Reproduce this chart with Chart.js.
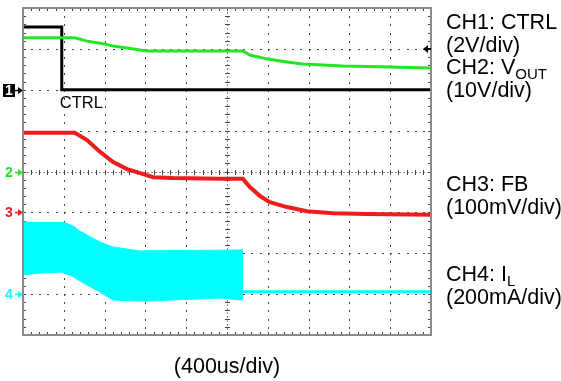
<!DOCTYPE html>
<html>
<head>
<meta charset="utf-8">
<script src="https://cdn.jsdelivr.net/npm/chart.js@4.4.1/dist/chart.umd.min.js"></script>
<style>
  html, body { margin: 0; padding: 0; background: #fff; }
  #wrap { width: 561px; height: 381px; }
</style>
</head>
<body>
<div id="wrap"><canvas id="scope"></canvas></div>
<script>
// horizontal: 400us/div over 10 divisions
const usPerDiv = 400;
const timeLabel = '(400us/div)';

// CH1 CTRL (V)
const ctrlTime = [0, 380, 380, 4000];
const ctrlVolts = [3.07, 3.07, 0, 0];

// CH2 VOUT (V)
const voutTime = [0, 508, 628, 756, 884, 1020, 1148, 1224, 2156, 2224, 2400, 2588, 2744, 3136, 3500, 4000];
const voutVolts = [32.7, 32.7, 31.9, 31.4, 30.7, 30.2, 29.7, 29.5, 29.5, 28.5, 27.5, 26.8, 26.3, 25.8, 25.6, 25.3];

// CH3 FB (mV)
const fbTime = [0, 508, 628, 756, 884, 1020, 1148, 1276, 1472, 1932, 2156, 2224, 2324, 2420, 2588, 2784, 3040, 3372, 4000];
const fbMv = [195, 195, 177, 148, 123, 106, 96, 86, 84, 82, 82, 62, 40, 25, 13, 3, -2, -4, -6];

// CH4 IL (mA): ripple envelope while switching, then the settled trace
const ilTime = [0, 167, 382, 412, 461, 510, 539, 627, 755, 882, 1147, 1216, 1931, 2157];
const ilMaxMa = [353, 350, 350, 349, 340, 328, 314, 289, 255, 231, 211, 212, 215, 216];
const ilMinMa = [94, 103, 108, 100, 94, 80, 70, 45, 10, -29, -34, -34, -19, -29];
const ilTailTime = [2157, 4000];
const ilTailMa = [12, 12];

// channel settings: units per division and ground marker (divisions from bottom)
const chPerDiv = [2, 10, 100, 200];
const chZeroDiv = [6, 4, 3, 1];
const chColors = ['#000000', '#22e622', '#ee1c1c', '#00ffff'];

// legend text: name, subscript, scale
const chNames = ['CH1: CTRL', 'CH2: V', 'CH3: FB', 'CH4: I'];
const chSubs = ['', 'OUT', '', 'L'];
const chScales = ['(2V/div)', '(10V/div)', '(100mV/div)', '(200mA/div)'];

function trace(ch, times, vals) {
  return times.map((t, i) => ({ x: t, y: vals[i] / chPerDiv[ch] + chZeroDiv[ch] }));
}

const FONT = '"Liberation Sans", Arial, sans-serif';

// scope graticule: dotted division lines, ticked centre lines, ticked border
const graticule = {
  id: 'graticule',
  beforeDatasetsDraw(chart) {
    const { ctx, chartArea: a, scales: { x, y } } = chart;
    ctx.save();
    // dotted lines at every division
    ctx.fillStyle = '#444';
    for (let i = 1; i < 10; i++) {
      if (i === 5) continue;
      const px = Math.round(x.getPixelForValue(i * usPerDiv));
      for (let j = 1; j < 40; j++) {
        ctx.fillRect(px, Math.round(y.getPixelForValue(j / 5)), 1, 2);
      }
    }
    for (let i = 1; i < 8; i++) {
      if (i === 4) continue;
      const py = Math.round(y.getPixelForValue(i));
      for (let j = 1; j < 50; j++) {
        ctx.fillRect(Math.round(x.getPixelForValue(j * usPerDiv / 5)), py, 2, 1);
      }
    }
    // centre lines with minor ticks
    const cx = Math.round(x.getPixelForValue(5 * usPerDiv));
    const cy = Math.round(y.getPixelForValue(4));
    ctx.strokeStyle = '#888';
    ctx.lineWidth = 1;
    ctx.setLineDash([2, 2]);
    ctx.beginPath();
    ctx.moveTo(cx + 0.5, a.top); ctx.lineTo(cx + 0.5, a.bottom);
    ctx.moveTo(a.left, cy + 0.5); ctx.lineTo(a.right, cy + 0.5);
    ctx.stroke();
    ctx.setLineDash([]);
    ctx.strokeStyle = '#444';
    ctx.beginPath();
    for (let j = 1; j < 40; j++) {
      const py = Math.round(y.getPixelForValue(j / 5)) + 0.5;
      ctx.moveTo(cx - 2, py); ctx.lineTo(cx + 3, py);
      ctx.moveTo(a.left, py); ctx.lineTo(a.left + 3, py);
      ctx.moveTo(a.right - 3, py); ctx.lineTo(a.right, py);
    }
    for (let j = 1; j < 50; j++) {
      const px = Math.round(x.getPixelForValue(j * usPerDiv / 5)) + 0.5;
      ctx.moveTo(px, cy - 2); ctx.lineTo(px, cy + 3);
      ctx.moveTo(px, a.top); ctx.lineTo(px, a.top + 3);
      ctx.moveTo(px, a.bottom - 3); ctx.lineTo(px, a.bottom);
    }
    ctx.stroke();
    ctx.restore();
  },
  afterDatasetsDraw(chart) {
    const { ctx, chartArea: a, scales: { x, y } } = chart;
    ctx.save();
    ctx.strokeStyle = '#8a8a8a';
    ctx.lineWidth = 2;
    ctx.strokeRect(a.left, a.top, a.right - a.left, a.bottom - a.top);

    // channel ground markers on the left edge
    ctx.font = 'bold 14px ' + FONT;
    ctx.textBaseline = 'middle';
    for (let ch = 0; ch < 4; ch++) {
      const py = Math.round(y.getPixelForValue(chZeroDiv[ch]));
      const col = ch === 0 ? '#000' : chColors[ch];
      if (ch === 0) {
        ctx.fillStyle = '#000';
        ctx.fillRect(3, py - 6, 12, 13);
        ctx.fillStyle = '#fff';
        ctx.fillText(String(ch + 1), 5, py + 1);
      } else {
        ctx.fillStyle = col;
        ctx.fillText(String(ch + 1), 5, py + 1);
      }
      ctx.strokeStyle = col;
      ctx.fillStyle = col;
      ctx.lineWidth = 1.5;
      ctx.beginPath();
      ctx.moveTo(15, py + 0.5); ctx.lineTo(20, py + 0.5);
      ctx.stroke();
      ctx.beginPath();
      ctx.moveTo(23, py + 0.5); ctx.lineTo(18, py - 3); ctx.lineTo(18, py + 4);
      ctx.closePath();
      ctx.fill();
    }

    // trigger level arrow on the right edge
    const ty = Math.round(y.getPixelForValue(7.0));
    ctx.fillStyle = '#000';
    ctx.beginPath();
    ctx.moveTo(a.right - 8, ty); ctx.lineTo(a.right - 3, ty - 4); ctx.lineTo(a.right - 3, ty + 4);
    ctx.closePath();
    ctx.fill();
    ctx.fillRect(a.right - 4, ty - 1, 4, 2);

    // trace label
    ctx.fillStyle = '#000';
    ctx.textBaseline = 'alphabetic';
    ctx.font = '16.5px ' + FONT;
    ctx.fillText('CTRL', x.getPixelForValue(ctrlTime[1]) - 2, y.getPixelForValue(chZeroDiv[0]) + 18);

    // channel legend
    const lx = a.right + 15;
    const nameY = [y.getPixelForValue(7.5), y.getPixelForValue(6.4), y.getPixelForValue(3.55), y.getPixelForValue(1.35)];
    for (let ch = 0; ch < 4; ch++) {
      const by = nameY[ch] + 1;
      ctx.font = '21.5px ' + FONT;
      ctx.fillText(chNames[ch], lx, by);
      if (chSubs[ch]) {
        const w = ctx.measureText(chNames[ch]).width;
        ctx.font = '15px ' + FONT;
        ctx.fillText(chSubs[ch], lx + w, by + 5);
        ctx.font = '21.5px ' + FONT;
      }
      ctx.fillText(chScales[ch], lx, by + 23);
    }

    // time base
    ctx.textAlign = 'center';
    ctx.fillText(timeLabel, x.getPixelForValue(5 * usPerDiv), a.bottom + 38);
    ctx.restore();
  }
};

new Chart(document.getElementById('scope'), {
  type: 'line',
  data: {
    datasets: [
      {
        label: 'CH4 max',
        data: trace(3, ilTime, ilMaxMa),
        borderColor: chColors[3],
        backgroundColor: chColors[3],
        borderWidth: 1,
        fill: '+1'
      },
      {
        label: 'CH4 min',
        data: trace(3, ilTime, ilMinMa),
        borderColor: chColors[3],
        borderWidth: 1,
        fill: false
      },
      {
        label: 'CH4',
        data: trace(3, ilTailTime, ilTailMa),
        borderColor: chColors[3],
        borderWidth: 3,
        fill: false
      },
      {
        label: 'CH3',
        data: trace(2, fbTime, fbMv),
        borderColor: chColors[2],
        borderWidth: 4,
        fill: false
      },
      {
        label: 'CH2',
        data: trace(1, voutTime, voutVolts),
        borderColor: chColors[1],
        borderWidth: 3,
        fill: false
      },
      {
        label: 'CH1',
        data: trace(0, ctrlTime, ctrlVolts),
        borderColor: chColors[0],
        borderWidth: 3,
        fill: false
      }
    ]
  },
  options: {
    responsive: true,
    maintainAspectRatio: false,
    animation: false,
    layout: { padding: { left: 23, right: 130, top: 8, bottom: 46 } },
    elements: { point: { radius: 0 }, line: { tension: 0 } },
    plugins: { legend: { display: false }, tooltip: { enabled: false } },
    scales: {
      x: { type: 'linear', min: 0, max: 10 * usPerDiv, display: false },
      y: { type: 'linear', min: 0, max: 8, display: false }
    }
  },
  plugins: [graticule]
});
</script>
</body>
</html>
